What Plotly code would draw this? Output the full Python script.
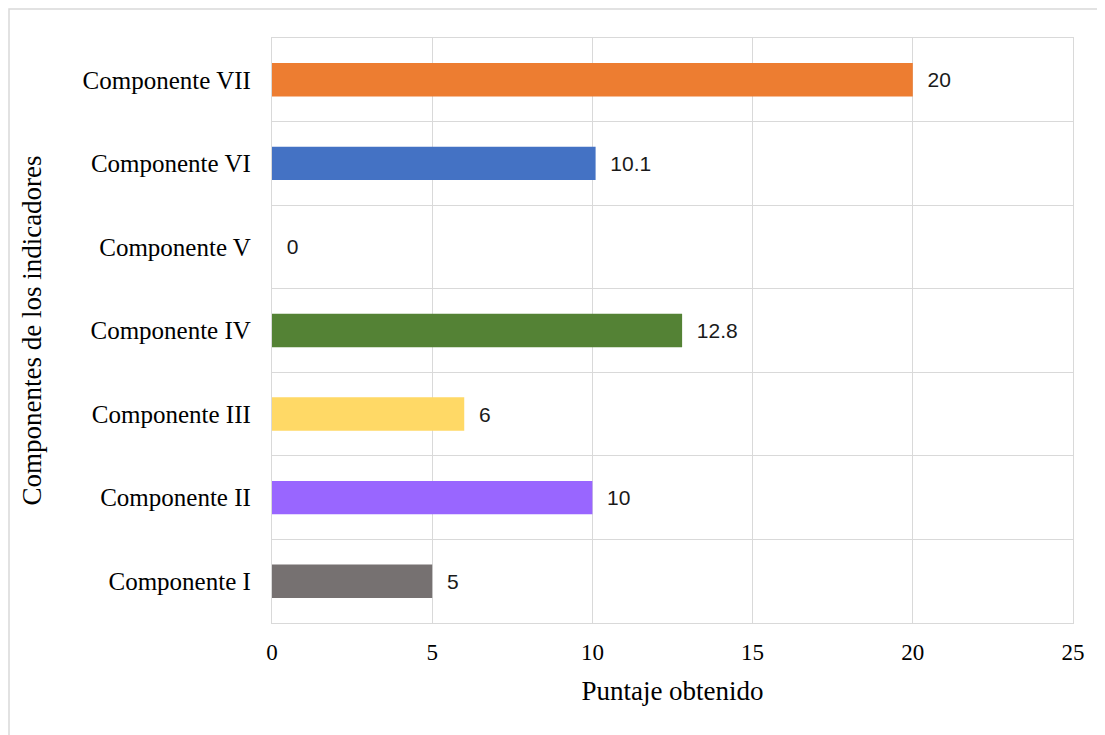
import plotly.graph_objects as go

categories = ["Componente I", "Componente II", "Componente III", "Componente IV",
              "Componente V", "Componente VI", "Componente VII"]
values = [5, 10, 6, 12.8, 0, 10.1, 20]
colors = ["#767171", "#9966FF", "#FFD966", "#548235", "#A5A5A5", "#4472C4", "#ED7D31"]
x_ticks = [0, 5, 10, 15, 20, 25]

SERIF = "Liberation Serif, Times New Roman, serif"
SANS = "Liberation Sans, Arial, sans-serif"
GRID = "#D9D9D9"

fig = go.Figure(go.Bar(
    x=values, y=categories, orientation="h",
    marker=dict(color=colors, line=dict(width=0)),
    text=[f"{v:g}" for v in values],
    texttemplate="\u00a0\u00a0%{text}",
    textposition="outside",
    textfont=dict(family=SANS, size=21, color="#1a1a1a"),
    cliponaxis=False,
    hoverinfo="skip",
))

fig.update_layout(
    width=1105, height=735,
    margin=dict(l=264, r=40, t=30, b=120),
    paper_bgcolor="white", plot_bgcolor="white",
    bargap=0.6,
    showlegend=False,
    font=dict(family=SERIF, color="#000000"),
    shapes=[dict(type="rect", xref="paper", yref="paper",
                 x0=(9 - 272) / 801, x1=(1120 - 272) / 801,
                 y0=(623 - 750) / 585, y1=(623 - 9) / 585,
                 line=dict(color=GRID, width=1.5), fillcolor="rgba(0,0,0,0)", layer="below")],
)

fig.update_xaxes(
    range=[0, 25], tickvals=x_ticks, ticktext=[str(t) for t in x_ticks],
    showgrid=True, gridcolor=GRID, gridwidth=1.3, zeroline=False,
    showline=True, linecolor=GRID, linewidth=1.3, mirror=True,
    ticks="outside", ticklen=8, tickcolor="rgba(0,0,0,0)",
    tickfont=dict(family=SERIF, size=23, color="#000000"),
    title=dict(text="Puntaje obtenido", font=dict(family=SERIF, size=27, color="#000000"), standoff=17),
)

fig.update_yaxes(
    type="category", categoryorder="array", categoryarray=categories,
    tickson="boundaries", showgrid=True, gridcolor=GRID, gridwidth=1.3,
    showline=True, linecolor=GRID, linewidth=1.3, mirror=True,
    ticks="", ticklabelstandoff=15,
    tickfont=dict(family=SERIF, size=25, color="#000000"),
    title=dict(text="Componentes de los indicadores", font=dict(family=SERIF, size=27, color="#000000"), standoff=33),
)

fig.write_html("out.html")
